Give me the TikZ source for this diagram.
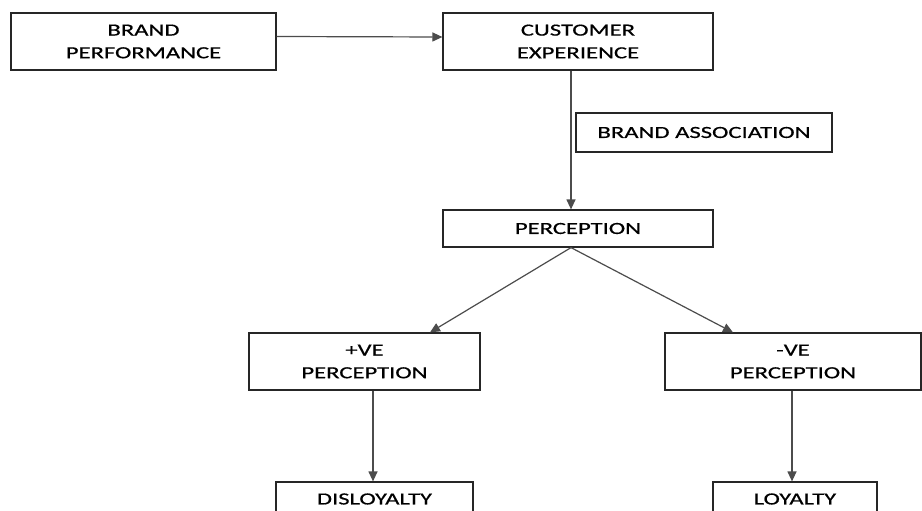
\documentclass[tikz,border=0pt]{standalone}
\usepackage{fontspec}
\setmainfont{Carlito}[FakeStretch=1.45,FakeBold=0.6]
\usetikzlibrary{arrows.meta}
\begin{document}
\begin{tikzpicture}[x=1pt,y=-1pt,
  box/.style={draw=black!85,line width=1.2pt,align=center,inner sep=0pt,
    font=\fontsize{17}{22.7}\selectfont,text=black},
  arr/.style={draw=black!70,line width=1.2pt,-{Triangle[length=10pt,width=9pt]}}]
\useasboundingbox (0,0) rectangle (922,511);
\fill[white] (0,0) rectangle (922,511);
\node[box,minimum width=265pt,minimum height=57pt] (bp) at (143.5,41.5) {BRAND\\PERFORMANCE};
\node[box,minimum width=270pt,minimum height=57pt] (ce) at (578,41.5) {CUSTOMER\\EXPERIENCE};
\node[box,minimum width=256pt,minimum height=39pt] (ba) at (704,132.5) {BRAND ASSOCIATION};
\node[box,minimum width=270pt,minimum height=37pt] (pc) at (578,228.5) {PERCEPTION};
\node[box,minimum width=231pt,minimum height=57pt] (pos) at (364.5,361.5) {+VE\\PERCEPTION};
\node[box,minimum width=256pt,minimum height=57pt] (neg) at (793,361.5) {-VE\\PERCEPTION};
\node[box,minimum width=197pt,minimum height=34pt] (dis) at (374.5,499) {DISLOYALTY};
\node[box,minimum width=164pt,minimum height=34pt] (loy) at (795,499) {LOYALTY};
\draw[arr] ([yshift=5pt]bp.east) -- ([yshift=4.5pt]ce.west);
\draw[arr] ([xshift=-7pt]ce.south) -- ([xshift=-7pt]pc.north);
\draw[arr] ([xshift=-7pt]pc.south) -- ([xshift=65.5pt]pos.north);
\draw[arr] ([xshift=-7pt]pc.south) -- ([xshift=-60pt]neg.north);
\draw[arr] ([xshift=8.5pt]pos.south) -- ([xshift=-1.5pt]dis.north);
\draw[arr] ([xshift=-1pt]neg.south) -- ([xshift=-3pt]loy.north);
\end{tikzpicture}
\end{document}
